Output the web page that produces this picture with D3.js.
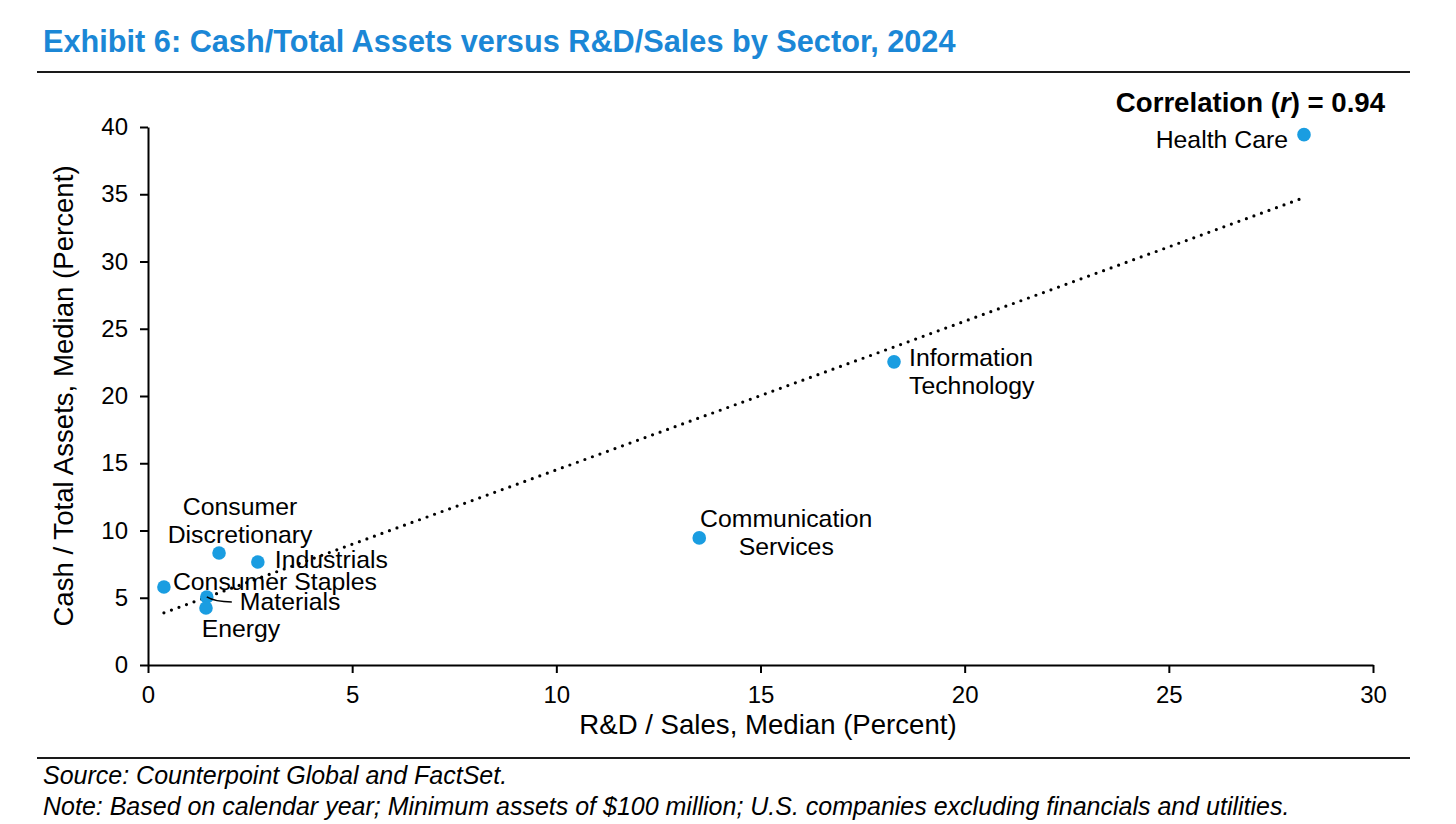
<!DOCTYPE html>
<html>
<head>
<meta charset="utf-8">
<script src="https://cdn.jsdelivr.net/npm/d3@7"></script>
<style>
    html, body { margin: 0; padding: 0; background: #fff; }
    svg { display: block; font-family: "Liberation Sans", Arial, Helvetica, sans-serif; }
</style>
</head>
<body>
<div id="chart"></div>
<script>
// data read from the exhibit
const sectors = ["Health Care", "Information Technology", "Communication Services",
    "Consumer Discretionary", "Industrials", "Consumer Staples", "Materials", "Energy"];
const rdSales = [28.31, 18.27, 13.50, 1.74, 2.69, 0.39, 1.44, 1.42];
const cashAssets = [39.43, 22.54, 9.45, 8.33, 7.66, 5.80, 5.06, 4.24];
const xTicks = [0, 5, 10, 15, 20, 25, 30];
const yTicks = [0, 5, 10, 15, 20, 25, 30, 35, 40];
const correlation = "0.94";

// where each label sits relative to its dot
const labelLayout = {
    "Health Care": { lines: ["Health Care"], dx: -16, dy: 13, anchor: "end" },
    "Information Technology": { lines: ["Information", "Technology"], dx: 15, dy: 4, anchor: "start" },
    "Communication Services": { lines: ["Communication", "Services"], dx: 87, dy: -11, anchor: "middle" },
    "Consumer Discretionary": { lines: ["Consumer", "Discretionary"], dx: 21, dy: -38, anchor: "middle" },
    "Industrials": { lines: ["Industrials"], dx: 17, dy: 6, anchor: "start" },
    "Consumer Staples": { lines: ["Consumer Staples"], dx: 9, dy: 3, anchor: "start" },
    "Materials": { lines: ["Materials"], dx: 33, dy: 13, anchor: "start", leader: true },
    "Energy": { lines: ["Energy"], dx: 35, dy: 29, anchor: "middle" }
};

const width = 1456, height = 824;
const margin = { left: 148, right: 83, top: 127, bottom: 159 };
const blue = "#1b87d6";
const dotColor = "#1a9de1";

let svg = d3.select("#chart")
    .append("svg")
    .attr("width", width)
    .attr("height", height);

// title and rules
svg.append("text")
    .attr("x", 43)
    .attr("y", 52)
    .attr("fill", blue)
    .attr("font-size", 30.7)
    .attr("font-weight", "bold")
    .text("Exhibit 6: Cash/Total Assets versus R&D/Sales by Sector, 2024");

svg.append("line")
    .attr("x1", 37).attr("x2", 1410)
    .attr("y1", 72).attr("y2", 72)
    .attr("stroke", "#1a1a1a").attr("stroke-width", 2);

svg.append("line")
    .attr("x1", 37).attr("x2", 1410)
    .attr("y1", 758).attr("y2", 758)
    .attr("stroke", "#1a1a1a").attr("stroke-width", 2);

// scales
let x = d3.scaleLinear()
    .domain([0, 30])
    .range([margin.left, width - margin.right]);

let y = d3.scaleLinear()
    .domain([0, 40])
    .range([height - margin.bottom, margin.top]);

// axes
let xAxis = svg.append("g")
    .attr("transform", `translate(0,${y(0)})`)
    .call(d3.axisBottom(x).tickValues(xTicks).tickSize(8).tickPadding(13).tickSizeOuter(0));

let yAxis = svg.append("g")
    .attr("transform", `translate(${x(0)},0)`)
    .call(d3.axisLeft(y).tickValues(yTicks).tickSize(8).tickPadding(12).tickSizeOuter(0));

[xAxis, yAxis].forEach(a => {
    a.select(".domain").attr("stroke", "#000").attr("stroke-width", 2);
    a.selectAll(".tick line").attr("stroke", "#000").attr("stroke-width", 2);
    a.selectAll(".tick text")
        .attr("fill", "#000")
        .attr("font-size", 24)
        .attr("font-family", "'Liberation Sans', Arial, Helvetica, sans-serif");
});

// axis titles
svg.append("text")
    .attr("x", 768)
    .attr("y", 734)
    .attr("text-anchor", "middle")
    .attr("font-size", 27.6)
    .text("R&D / Sales, Median (Percent)");

svg.append("text")
    .attr("transform", `translate(73,${(y(0) + y(40)) / 2}) rotate(-90)`)
    .attr("text-anchor", "middle")
    .attr("font-size", 27.6)
    .text("Cash / Total Assets, Median (Percent)");

// least squares trend line through the sector points
let points = sectors.map((s, i) => ({ sector: s, x: rdSales[i], y: cashAssets[i] }));
let mx = d3.mean(rdSales), my = d3.mean(cashAssets);
let sxy = d3.sum(points, d => (d.x - mx) * (d.y - my));
let sxx = d3.sum(points, d => (d.x - mx) * (d.x - mx));
let slope = sxy / sxx;
let intercept = my - slope * mx;
let xExt = d3.extent(rdSales);

svg.append("path")
    .datum(xExt.map(v => [v, intercept + slope * v]))
    .attr("d", d3.line().x(d => x(d[0])).y(d => y(d[1])))
    .attr("fill", "none")
    .attr("stroke", "#000")
    .attr("stroke-width", 3.2)
    .attr("stroke-linecap", "round")
    .attr("stroke-dasharray", "0 8");

// dots
svg.append("g")
    .selectAll("circle")
    .data(points)
    .enter().append("circle")
    .attr("cx", d => x(d.x))
    .attr("cy", d => y(d.y))
    .attr("r", 6.8)
    .attr("fill", dotColor);

// labels
let labels = svg.append("g")
    .selectAll("g")
    .data(points)
    .enter().append("g")
    .attr("transform", d => `translate(${x(d.x)},${y(d.y)})`);

labels.each(function(d) {
    let lay = labelLayout[d.sector];
    let g = d3.select(this);
    if (lay.leader) {
        g.append("path")
            .attr("d", `M0,0 Q8,5 ${lay.dx - 8},5`)
            .attr("fill", "none")
            .attr("stroke", "#000")
            .attr("stroke-width", 1.5);
    }
    let t = g.append("text")
        .attr("text-anchor", lay.anchor)
        .attr("font-size", 24.8)
        .attr("fill", "#000");
    lay.lines.forEach((line, k) => {
        t.append("tspan")
            .attr("x", lay.dx)
            .attr("y", lay.dy + k * 28)
            .text(line);
    });
});

// correlation note
let corr = svg.append("text")
    .attr("x", 1385)
    .attr("y", 112)
    .attr("text-anchor", "end")
    .attr("font-size", 27.6)
    .attr("font-weight", "bold");
corr.append("tspan").text("Correlation (");
corr.append("tspan").attr("font-style", "italic").text("r");
corr.append("tspan").text(") = " + correlation);

// footer
svg.append("text")
    .attr("x", 43)
    .attr("y", 784)
    .attr("font-size", 25)
    .attr("font-style", "italic")
    .text("Source: Counterpoint Global and FactSet.");

svg.append("text")
    .attr("x", 43)
    .attr("y", 815)
    .attr("font-size", 25)
    .attr("font-style", "italic")
    .text("Note: Based on calendar year; Minimum assets of $100 million; U.S. companies excluding financials and utilities.");
</script>
</body>
</html>
